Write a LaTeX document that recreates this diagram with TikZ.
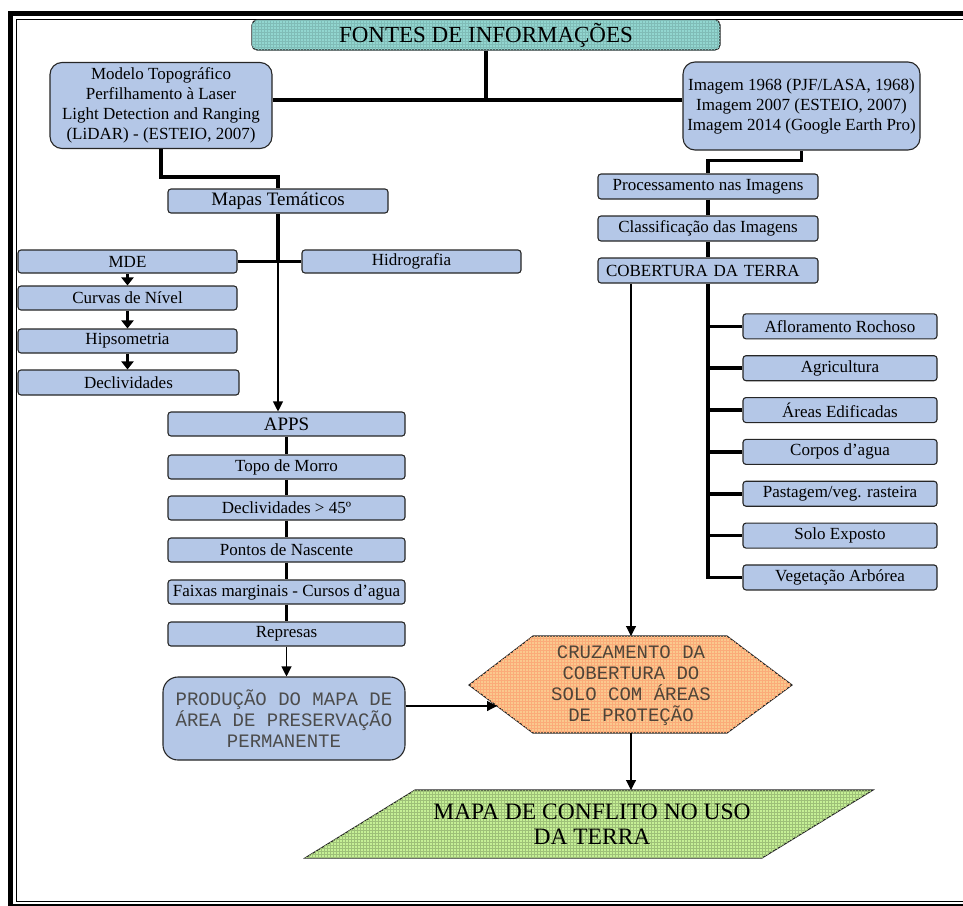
\documentclass[tikz,border=0pt]{standalone}
\usepackage{fontspec}
\setmainfont{Liberation Serif}
\newfontfamily\monofonte{Liberation Mono}
\usetikzlibrary{patterns,arrows.meta}
\definecolor{azul}{RGB}{180,199,231}
\definecolor{turquesa}{RGB}{146,214,208}
\definecolor{laranja}{RGB}{250,201,142}
\definecolor{verde}{RGB}{198,240,150}
\definecolor{textohex}{RGB}{80,68,56}

\begin{document}
\begin{tikzpicture}[x=1pt,y=-1pt,
    caixa/.style={draw=black!85, fill=azul, line width=1.1pt, rounded corners=3pt,
      minimum height=24pt, inner sep=0pt, font=\fontsize{17}{20}\selectfont},
    grosso/.style={line width=3.5pt},
    fino/.style={line width=1.1pt, -{Triangle[length=10pt,width=10pt]}},
    seta/.style={line width=3pt, -{Triangle[length=8pt,width=12pt]}},
    hexag/.style={draw=black!85, line width=1.1pt, fill=laranja,
      postaction={pattern=grid, pattern color=laranja!85!red}},
    paral/.style={draw=black!85, line width=1.1pt, fill=verde,
      postaction={pattern=grid, pattern color=verde!80!black}}]
  \useasboundingbox (0,0) rectangle (963,905);

  % Moldura
  \draw[line width=4.5pt] (975,13.5) -- (10.5,13.5) -- (10.5,910);
  \draw[line width=1pt] (975,19.5) -- (16,19.5) -- (16,901) -- (975,901);
  \draw[line width=2pt] (10.5,904.5) -- (975,904.5);

  % Fontes
  \node[caixa, fill=turquesa, rounded corners=5pt, minimum width=468, minimum height=30,
    font=\fontsize{23}{26}\selectfont,
    postaction={pattern=grid, pattern color=turquesa!88!black}] (fontes) at (486,35) {FONTES DE INFORMAÇÕES};
  \node[caixa, minimum width=222, minimum height=86, rounded corners=12pt, align=center] (lidar) at (161,105.5)
    {Modelo Topográfico\\Perfilhamento à Laser\\Light Detection and Ranging\\(LiDAR) - (ESTEIO, 2007)};
  \node[caixa, minimum width=237, minimum height=88, rounded corners=12pt, align=center] (imagens) at (801.5,106)
    {Imagem 1968 (PJF/LASA, 1968)\\Imagem 2007 (ESTEIO, 2007)\\Imagem 2014 (Google Earth Pro)};
  \coordinate (juncao) at (486,100);

  % Lado esquerdo
  \node[caixa, minimum width=220, font=\fontsize{19}{22}\selectfont] (mapas) at (278,201) {Mapas Temáticos};
  \node[caixa, minimum width=219, minimum height=23] (mde) at (127.5,261.5) {MDE};
  \node[caixa, minimum width=219, minimum height=23] (hidro) at (411.5,261.5) {Hidrografia};
  \node[caixa, minimum width=219] (curvas) at (127.5,298) {Curvas de Nível};
  \node[caixa, minimum width=219] (hipso) at (127.5,341) {Hipsometria};
  \node[caixa, minimum width=221, minimum height=25] (decliv) at (128.5,382.5) {Declividades};

  \node[caixa, minimum width=237, font=\fontsize{19}{21}\selectfont] (apps) at (286.5,424) {APPS};
  \node[caixa, minimum width=237] (topo) at (286.5,467) {Topo de Morro};
  \node[caixa, minimum width=237] (decl45) at (286.5,508) {Declividades > 45º};
  \node[caixa, minimum width=237] (pontos) at (286.5,550) {Pontos de Nascente};
  \node[caixa, minimum width=237] (faixas) at (286.5,592) {Faixas marginais - Cursos d’agua};
  \node[caixa, minimum width=237] (represas) at (286.5,634) {Represas};
  \node[caixa, minimum width=242, minimum height=83, rounded corners=15pt, align=center,
    text=black!70, font=\monofonte\fontsize{19}{21}\selectfont] (producao) at (284,718.5)
    {PRODUÇÃO DO MAPA DE\\ÁREA DE PRESERVAÇÃO\\PERMANENTE};

  % Lado direito
  \node[caixa, minimum width=220, minimum height=25] (proc) at (708,186.5) {Processamento nas Imagens};
  \node[caixa, minimum width=220, minimum height=25] (classif) at (708,228.5) {Classificação das Imagens};
  \node[caixa, minimum height=25, inner xsep=8pt, text width=204pt, align=left] (cob) at (708,270.5) {COBERTURA DA TERRA};
  \foreach \nome [count=\i] in {Afloramento Rochoso, Agricultura, Áreas Edificadas, Corpos d’agua,
      Pastagem/veg. rasteira, Solo Exposto, Vegetação Arbórea}
    \node[caixa, minimum width=194, minimum height=25] (cob\i) at (840,{284.5+41.85*\i}) {\nome};

  % Cruzamento e mapa final
  \filldraw[hexag] (469,685) -- (533,636) -- (727,636) -- (792,685) -- (727,733) -- (533,733) -- cycle;
  \node[align=center, text=textohex, font=\monofonte\fontsize{19}{21}\selectfont] (cruzamento) at (631,686)
    {CRUZAMENTO DA\\COBERTURA DO\\SOLO COM ÁREAS\\DE PROTEÇÃO};
  \coordinate (topohex) at (631,636);
  \coordinate (basehex) at (631,733);
  \coordinate (entrada) at (497,706);
  \filldraw[paral] (415,790) -- (873,790) -- (762,858) -- (305,858) -- cycle;
  \node[align=center, font=\fontsize{23.5}{25.5}\selectfont] (conflito) at (592,824)
    {MAPA DE CONFLITO NO USO\\DA TERRA};
  \coordinate (topoparal) at (631,790);

  % Ligacoes
  \draw[grosso] (fontes.south) -- (juncao);
  \draw[grosso] (lidar.east |- juncao) -- (imagens.west |- juncao);
  \draw[grosso] (lidar.south) -- ++(0,28) -| (mapas.north);
  \draw[grosso] (imagens.south) -- ++(0,10) -| (proc.north);
  \draw[grosso] (proc) -- (classif);
  \draw[grosso] (classif) -- (cob);
  \draw[grosso] (cob.south) |- (cob7.west);
  \foreach \i in {1,...,6}
    \draw[grosso] (cob.south |- cob\i.west) -- (cob\i.west);

  \draw[fino] (mapas.south) -- (mapas.south |- apps.north);
  \draw[grosso] (mapas.south) -- (mapas.south |- mde.east);
  \draw[grosso] (mde.east) -- (hidro.west);
  \draw[seta] (mde) -- (curvas);
  \draw[seta] (curvas) -- (hipso);
  \draw[seta] (hipso.south) -- (hipso.south |- decliv.north);
  \foreach \a/\b in {apps/topo, topo/decl45, decl45/pontos, pontos/faixas, faixas/represas}
    \draw[grosso] (\a) -- (\b);
  \draw[fino] (represas.south) -- (represas.south |- producao.north);

  \draw[fino] (producao.east |- entrada) -- (entrada);
  \draw[fino] (cob.south -| topohex) -- (topohex);
  \draw[fino] (basehex) -- (topoparal);
\end{tikzpicture}
\end{document}
